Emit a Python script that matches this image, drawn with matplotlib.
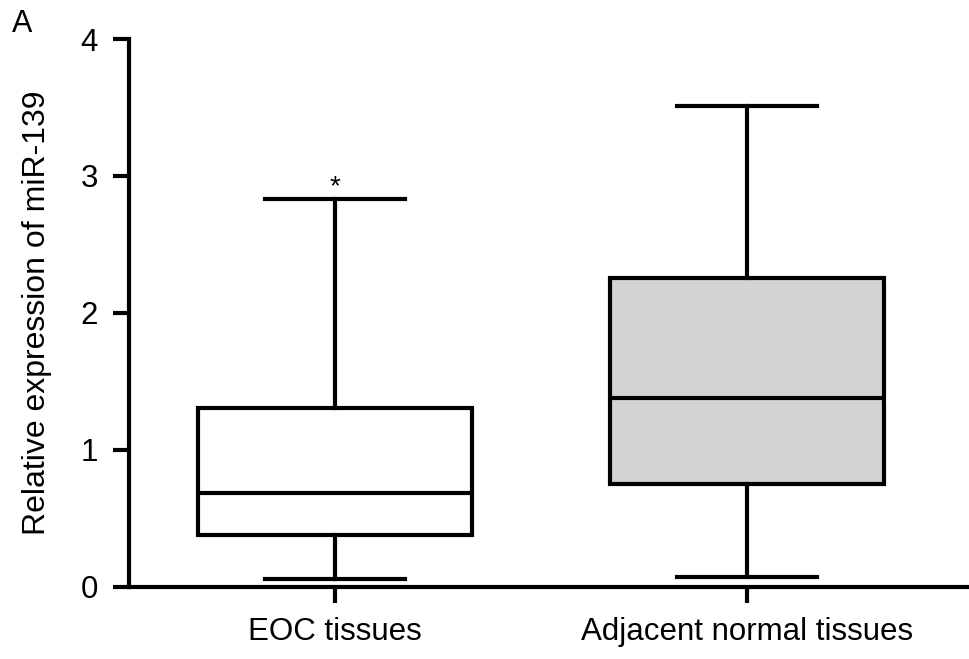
import matplotlib
matplotlib.use("Agg")
import matplotlib.pyplot as plt

plt.rcParams['font.family'] = ['Liberation Sans', 'DejaVu Sans']

categories = ["EOC tissues", "Adjacent normal tissues"]
whislo = [0.056, 0.069]
q1 = [0.377, 0.747]
med = [0.682, 1.375]
q3 = [1.302, 2.258]
whishi = [2.835, 3.508]
fills = ["white", "#d3d3d3"]
yticks = [0, 1, 2, 3, 4]

stats = [dict(label=c, whislo=a, q1=b, med=m, q3=d, whishi=e)
         for c, a, b, m, d, e in zip(categories, whislo, q1, med, q3, whishi)]

fig = plt.figure(figsize=(9.69, 6.59), dpi=100)
ax = fig.add_axes([0.1331, 0.1097, 0.8669, 0.8311])

lw = 3
bp = ax.bxp(stats, positions=[1, 2], widths=0.665, showfliers=False,
            patch_artist=True,
            boxprops=dict(linewidth=lw, edgecolor='black'),
            medianprops=dict(linewidth=lw, color='black'),
            whiskerprops=dict(linewidth=lw, color='black'),
            capprops=dict(linewidth=lw, color='black'),
            capwidths=0.34)
for patch, f in zip(bp['boxes'], fills):
    patch.set_facecolor(f)

ax.set_xlim(0.5, 2.54)
ax.set_ylim(0, 4)
ax.set_yticks(yticks)
ax.set_yticklabels([str(t) for t in yticks])
ax.spines['top'].set_visible(False)
ax.spines['right'].set_visible(False)
ax.spines['left'].set_linewidth(lw)
ax.spines['bottom'].set_linewidth(lw)
ax.tick_params(axis='both', width=lw, length=11.5, labelsize=22.5, color='black')
ax.tick_params(axis='y', pad=11)
ax.tick_params(axis='x', pad=10)
ax.set_ylabel("Relative expression of miR-139", fontsize=23, labelpad=20)

ax.text(1, whishi[0] + 0.03, "*", ha='center', va='baseline', fontsize=20)
fig.text(0.023, 0.964, "A", fontsize=22, ha='center', va='center')

fig.savefig("out.png", dpi=100)
